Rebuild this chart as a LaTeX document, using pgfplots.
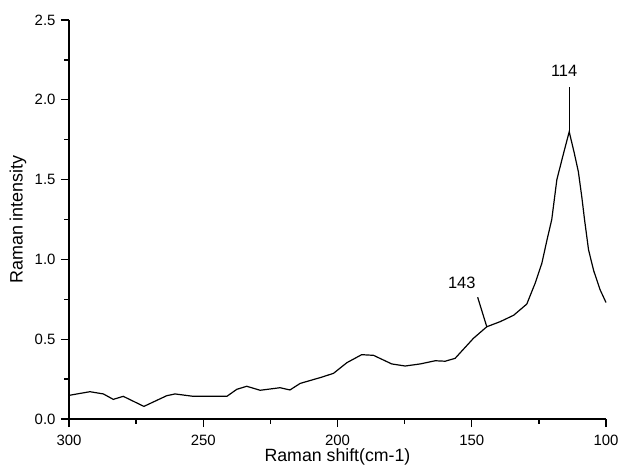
\documentclass[border=0pt]{standalone}
\usepackage{pgfplots}
\pgfplotsset{compat=1.18}
\usepackage{fontspec}
\setmainfont{Liberation Sans}
\begin{document}
\begin{tikzpicture}
\begin{axis}[
  scale only axis,
  width=537bp, height=399bp,
  xmin=100, xmax=300, ymin=0, ymax=2.5,
  x dir=reverse,
  axis lines=left,
  axis line style={-, line width=1.5bp},
  xtick={100,150,200,250,300},
  ytick={0,0.5,1,1.5,2,2.5},
  minor tick num=1,
  tick align=outside,
  major tick length=8bp,
  minor tick length=4.5bp,
  every tick/.style={black, line width=1.4bp},
  tick label style={font=\fontsize{15}{18}\selectfont},
  /pgf/number format/assume math mode=true,
  yticklabel style={xshift=-2bp, /pgf/number format/.cd, fixed, fixed zerofill, precision=1},
  xticklabel style={anchor=base, inner sep=0pt, yshift=-18.8bp, /pgf/number format/.cd, fixed, precision=0},
  xlabel={Raman shift(cm-1)},
  ylabel={Raman intensity},
  every axis x label/.style={at={(axis description cs:0.5,0)}, yshift=-42.5bp, anchor=base, inner sep=0pt, font=\fontsize{17.8}{21}\selectfont},
  every axis y label/.style={at={(axis description cs:0,0.5)}, xshift=-51bp, rotate=90, anchor=center, font=\fontsize{18}{21}\selectfont},
  clip=false,
]
\addplot[black, line width=1.2bp] coordinates {
(300,0.148) (296,0.16) (292.2,0.171) (287.2,0.157) (283.5,0.123) (279.8,0.142)
(272.1,0.079) (263.6,0.146) (260.5,0.157) (253.7,0.142) (241.2,0.142) (237.5,0.186)
(233.8,0.205) (228.8,0.18) (221.4,0.196) (217.7,0.182) (213.9,0.223) (206.1,0.261)
(201.5,0.286) (196.5,0.353) (191.0,0.403) (186.6,0.399) (179.8,0.345) (174.8,0.332)
(169.2,0.345) (163.6,0.365) (159.9,0.362) (156.2,0.38) (149.4,0.505) (144.4,0.578)
(139.4,0.61) (134.4,0.65) (129.5,0.72) (126.4,0.85) (123.9,0.975) (122.0,1.12)
(120.2,1.25) (118.3,1.5) (115.8,1.665) (113.7,1.80) (111.8,1.665) (110.3,1.55) (109.0,1.39)
(108.0,1.25) (106.5,1.06) (104.6,0.93) (102.2,0.81) (100.0,0.73)
};
\addplot[black, line width=1.2bp] coordinates {(113.7,1.80) (113.7,2.08)};
\addplot[black, line width=1.2bp] coordinates {(144.4,0.578) (147.8,0.763)};
\node[font=\fontsize{16.5}{20}\selectfont] at (axis cs:115.6,2.18) {114};
\node[font=\fontsize{16.5}{20}\selectfont] at (axis cs:153.7,0.85) {143};
\end{axis}
\pgfresetboundingbox
\path (current axis.south west) ++(-69bp,-46bp) rectangle ++(620bp,465bp);
\end{tikzpicture}
\end{document}
